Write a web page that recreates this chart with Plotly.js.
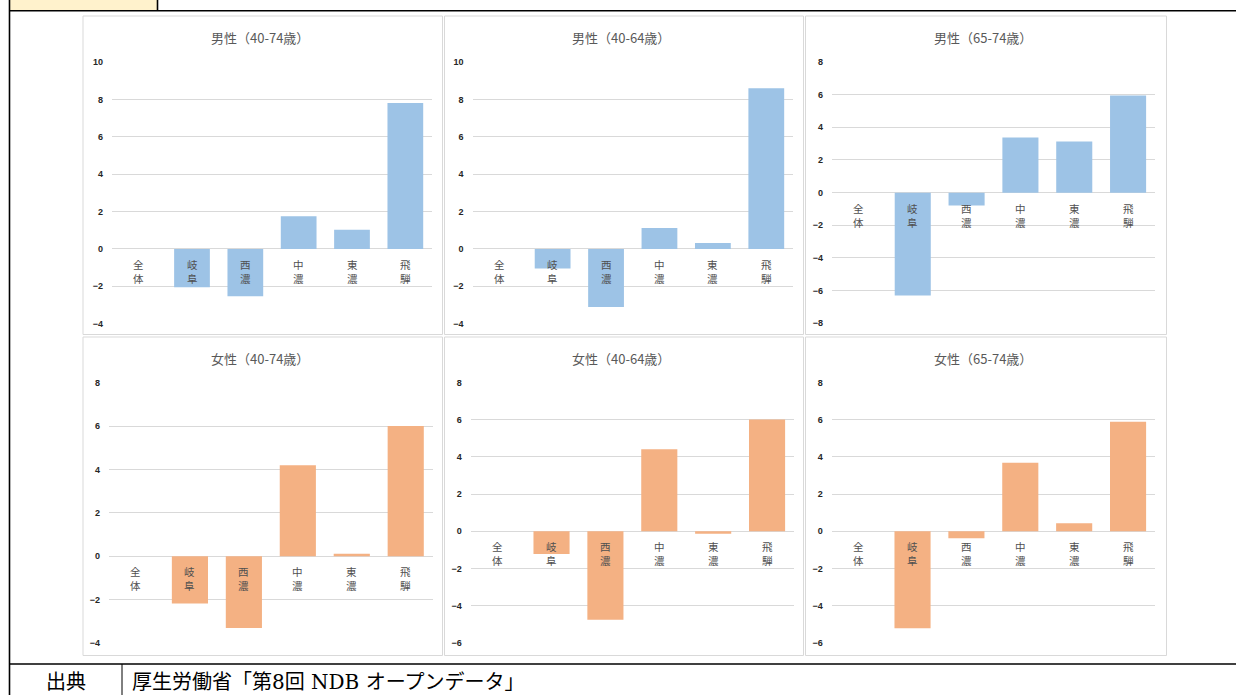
<!DOCTYPE html>
<html>
<head>
<meta charset="utf-8">
<script src="https://cdn.plot.ly/plotly-3.0.1.min.js"></script>
<style>
html,body{margin:0;padding:0;background:#fff;}
#chart{width:1236px;height:695px;}
</style>
</head>
<body>
<div id="chart"></div>
<script>
// ---- data ----
const categories = ['全体', '岐阜', '西濃', '中濃', '東濃', '飛騨'];
const panelTitles = ['男性（40-74歳）', '男性（40-64歳）', '男性（65-74歳）',
                     '女性（40-74歳）', '女性（40-64歳）', '女性（65-74歳）'];
const male_40_74   = [0, -2.05, -2.53, 1.75, 1.02, 7.80];
const male_40_64   = [0, -1.05, -3.10, 1.12, 0.32, 8.60];
const male_65_74   = [0, -6.30, -0.78, 3.37, 3.13, 5.95];
const female_40_74 = [0, -2.18, -3.31, 4.20, 0.11, 6.00];
const female_40_64 = [0, -1.22, -4.77, 4.41, -0.13, 6.02];
const female_65_74 = [0, -5.22, -0.38, 3.69, 0.43, 5.90];
const yRanges = [[-4, 10], [-4, 10], [-8, 8], [-4, 8], [-6, 8], [-6, 8]];
const sourceLabel = '出典';
const sourceText = '厚生労働省「第8回 NDB オープンデータ」';

// ---- layout helpers (pixel -> paper) ----
const W = 1236, H = 695;
const px = x => x / W;
const py = y => 1 - y / H;

const series = [male_40_74, male_40_64, male_65_74, female_40_74, female_40_64, female_65_74];
const colors = ['#9DC3E6', '#9DC3E6', '#9DC3E6', '#F4B183', '#F4B183', '#F4B183'];

// plot areas in pixels: [x0, x1, yTop, yBottom]
const areas = [
  [112, 432, 62, 323.7],
  [472.5, 793, 62, 323.7],
  [832, 1155, 62, 323.3],
  [109, 432.7, 382.7, 643],
  [470.7, 794, 382.7, 642.7],
  [831.7, 1155, 382.7, 642.7]
];
// panel boxes [x0, x1, y0, y1]
const boxes = [
  [83, 442.5, 16, 334.5], [444.5, 803.5, 16, 334.5], [805.5, 1166.5, 16, 334.5],
  [83, 442.5, 337, 655.5], [444.5, 803.5, 337, 655.5], [805.5, 1166.5, 337, 655.5]
];
const titleCenters = [[260, 37], [621, 37], [983, 37], [260, 358], [621, 358], [983, 358]];

const traces = [];
const layout = {
  width: W, height: H,
  margin: {l: 0, r: 0, t: 0, b: 0, pad: 0},
  paper_bgcolor: '#ffffff',
  plot_bgcolor: 'rgba(0,0,0,0)',
  showlegend: false,
  bargap: 0.33,
  font: {family: '"Noto Sans CJK JP", "Noto Sans", sans-serif', color: '#595959'},
  annotations: [],
  shapes: []
};

// panel borders
boxes.forEach(b => {
  layout.shapes.push({type: 'rect', xref: 'paper', yref: 'paper',
    x0: px(b[0]), x1: px(b[1]), y0: py(b[3]), y1: py(b[2]),
    line: {color: '#D9D9D9', width: 1}, fillcolor: '#ffffff', layer: 'below'});
});

series.forEach((vals, i) => {
  const n = i + 1;
  const xa = 'x' + (n === 1 ? '' : n);
  const ya = 'y' + (n === 1 ? '' : n);
  traces.push({
    type: 'bar', x: categories, y: vals, xaxis: xa, yaxis: ya,
    marker: {color: colors[i], line: {width: 0}},
    hoverinfo: 'skip'
  });
  const a = areas[i];
  layout['xaxis' + (n === 1 ? '' : n)] = {
    domain: [px(a[0]), px(a[1])], anchor: ya, type: 'category',
    range: [-0.5, categories.length - 0.5],
    showticklabels: false, showgrid: false, zeroline: false, showline: false, ticks: ''
  };
  layout['yaxis' + (n === 1 ? '' : n)] = {
    domain: [py(a[3]), py(a[2])], anchor: xa,
    range: yRanges[i], dtick: 2, tick0: 0,
    showgrid: true, gridcolor: '#D9D9D9', gridwidth: 1,
    zeroline: true, zerolinecolor: '#D9D9D9', zerolinewidth: 1,
    showline: false, ticks: '', ticklabelstandoff: 8,
    tickfont: {family: '"Liberation Sans", Arial, sans-serif', size: 9, color: '#262626', weight: 'bold'}
  };
  // panel title
  layout.annotations.push({
    xref: 'paper', yref: 'paper', x: px(titleCenters[i][0]), y: py(titleCenters[i][1]),
    xanchor: 'center', yanchor: 'middle', showarrow: false,
    text: panelTitles[i],
    font: {size: 13, color: '#595959', family: '"Noto Sans CJK JP", sans-serif'}
  });
  // category labels (vertical, just below the zero line)
  categories.forEach(c => {
    layout.annotations.push({
      xref: xa, yref: ya, x: c, y: 0, xanchor: 'center', yanchor: 'top',
      yshift: -6, showarrow: false,
      text: c.split('').join('<br>'),
      font: {size: 10.5, color: '#505050', family: '"Noto Sans CJK JP", sans-serif'}
    });
  });
});

// table frame
const black = {color: '#000000', width: 1.6};
layout.shapes.push(
  {type: 'rect', xref: 'paper', yref: 'paper', x0: px(9), x1: px(157.5), y0: py(10), y1: py(0),
   line: {width: 0}, fillcolor: '#FFF2CC', layer: 'below'},
  {type: 'line', xref: 'paper', yref: 'paper', x0: px(157.5), x1: px(157.5), y0: py(0), y1: py(10.5), line: black},
  {type: 'line', xref: 'paper', yref: 'paper', x0: px(9), x1: px(1236), y0: py(10.8), y1: py(10.8), line: black},
  {type: 'line', xref: 'paper', yref: 'paper', x0: px(9.5), x1: px(9.5), y0: py(0), y1: py(695), line: black},
  {type: 'line', xref: 'paper', yref: 'paper', x0: px(9), x1: px(1236), y0: py(664), y1: py(664), line: black},
  {type: 'line', xref: 'paper', yref: 'paper', x0: px(122), x1: px(122), y0: py(664), y1: py(695), line: {color: '#000000', width: 1}}
);
const footFont = {size: 20, color: '#000000', family: '"DejaVu Serif", "Noto Sans CJK JP", serif'};
layout.annotations.push(
  {xref: 'paper', yref: 'paper', x: px(66), y: py(682), xanchor: 'center', yanchor: 'middle',
   showarrow: false, text: sourceLabel, font: footFont},
  {xref: 'paper', yref: 'paper', x: px(130), y: py(682), xanchor: 'left', yanchor: 'middle',
   showarrow: false, text: sourceText, font: footFont}
);

Plotly.newPlot('chart', traces, layout, {staticPlot: true, displayModeBar: false});
</script>
</body>
</html>
